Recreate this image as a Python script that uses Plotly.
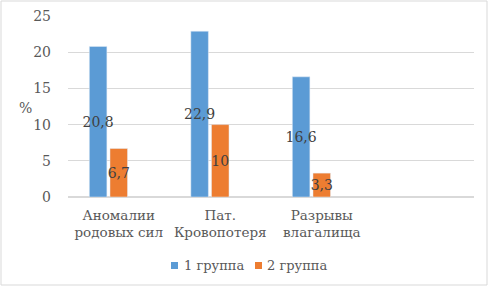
import plotly.graph_objects as go

categories = ["Аномалии<br>родовых сил", "Пат.<br>Кровопотеря", "Разрывы<br>влагалища"]
series_names = ["1 группа", "2 группа"]
series_colors = ["#5b9bd5", "#ed7d31"]
group1 = [20.8, 22.9, 16.6]
group2 = [6.7, 10, 3.3]
labels1 = ["20,8", "22,9", "16,6"]
labels2 = ["6,7", "10", "3,3"]
y_ticks = [0, 5, 10, 15, 20, 25]

x = list(range(len(categories) + 1))
FONT = "DejaVu Serif"
L, T, W, H = 68, 16, 406, 181


def px_x(v):
    return (v - L) / W


def px_y(v):
    return (T + H - v) / H


fig = go.Figure()
for vals, labs, name, col in [(group1, labels1, series_names[0], series_colors[0]),
                              (group2, labels2, series_names[1], series_colors[1])]:
    fig.add_trace(go.Bar(x=x[:3], y=vals, name=name, marker_color=col,
                         text=labs, textposition="inside", insidetextanchor="middle",
                         textangle=0, showlegend=False,
                         textfont=dict(family=FONT, size=14, color="#404040"),
                         cliponaxis=False))
fig.add_trace(go.Bar(x=x[:3], y=[None, None, None], name="3 группа",
                     marker_color="#a5a5a5", showlegend=False))

shapes = [dict(type="rect", xref="paper", yref="paper",
               x0=px_x(1), x1=px_x(487), y0=px_y(285), y1=px_y(1),
               line=dict(color="#d9d9d9", width=1), fillcolor="rgba(0,0,0,0)",
               layer="below")]
annotations = [dict(text="%", xref="paper", yref="paper", x=px_x(25), y=px_y(108),
                    showarrow=False, font=dict(family=FONT, size=14, color="#595959"),
                    xanchor="center", yanchor="middle")]
for sq_x, txt_x, name, col in [(171, 182, series_names[0], series_colors[0]),
                               (255, 265, series_names[1], series_colors[1])]:
    shapes.append(dict(type="rect", xref="paper", yref="paper",
                       x0=px_x(sq_x), x1=px_x(sq_x + 7), y0=px_y(269), y1=px_y(262),
                       line=dict(width=0), fillcolor=col))
    annotations.append(dict(text=name, xref="paper", yref="paper", x=px_x(txt_x),
                            y=px_y(265.5), showarrow=False, xanchor="left",
                            yanchor="middle",
                            font=dict(family=FONT, size=13, color="#595959")))

fig.update_layout(
    width=489, height=287,
    margin=dict(l=L, r=489 - L - W, t=T, b=287 - T - H, autoexpand=False),
    paper_bgcolor="white", plot_bgcolor="white",
    barmode="group", bargap=0.39, bargroupgap=0.15,
    uniformtext=dict(minsize=14, mode="show"),
    font=dict(family=FONT, size=14, color="#595959"),
    xaxis=dict(range=[-0.5, 3.5], tickmode="array", tickvals=x, automargin=False,
               ticktext=categories + [""], showgrid=False, zeroline=False,
               showline=False, ticks="", ticklabelstandoff=8,
               tickfont=dict(family=FONT, size=13.5, color="#595959")),
    yaxis=dict(range=[0, 25], tickvals=y_ticks, showgrid=True, gridcolor="#d9d9d9",
               gridwidth=1, zeroline=True, zerolinecolor="#d9d9d9", showline=False,
               automargin=False,
               ticks="", ticklabelstandoff=16, tickfont=dict(family=FONT, size=14, color="#595959")),
    showlegend=False,
    annotations=annotations,
    shapes=shapes,
)

fig.write_html("out.html", config={"displayModeBar": False},
               post_script="document.body.style.margin='0px';")
